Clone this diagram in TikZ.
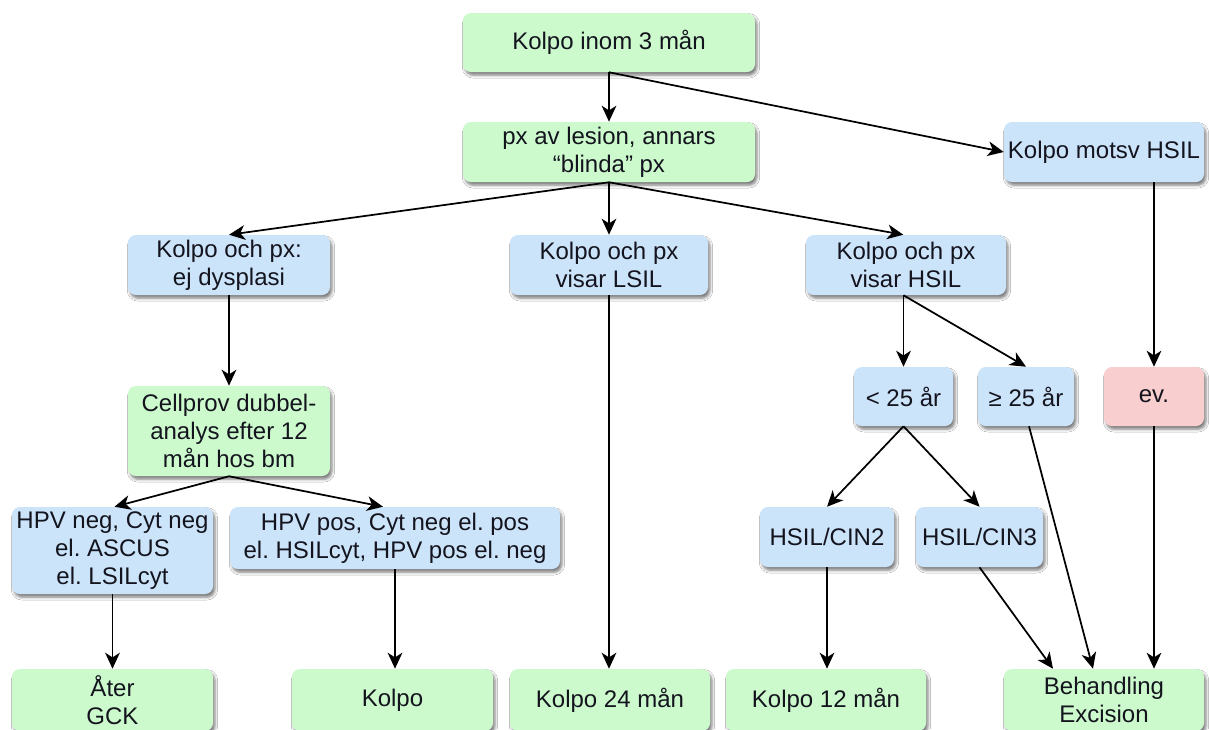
\documentclass[tikz,border=0pt]{standalone}
\usepackage{fontspec}
\setmainfont{Liberation Sans}
\usetikzlibrary{arrows.meta,shadows.blur}
\frenchspacing

\definecolor{boxgreen}{RGB}{204,250,204}
\definecolor{boxblue}{RGB}{204,228,250}
\definecolor{boxpink}{RGB}{248,206,206}
\definecolor{inkdark}{RGB}{20,20,30}

\begin{document}
\begin{tikzpicture}[x=0.75pt,y=-0.75pt,
  flowbox/.style={rounded corners=6pt, inner sep=0pt, align=center,
    font=\fontsize{18}{21}\selectfont, text=inkdark,
    blur shadow={shadow xshift=1.5pt, shadow yshift=-2.5pt,
      shadow blur radius=2pt, shadow opacity=50}},
  greenbox/.style={flowbox, fill=boxgreen},
  bluebox/.style={flowbox, fill=boxblue},
  pinkbox/.style={flowbox, fill=boxpink},
  link/.style={draw=black, line width=1.3pt,
    -{Stealth[length=12pt,width=11pt,inset=3.5pt]}},
]
\clip (0,0) rectangle (1209,729);
\fill[white] (0,0) rectangle (1209,729);

% top chain
\node[greenbox, minimum width=219pt, minimum height=44.25pt] (start) at (609,42.5) {Kolpo inom 3 mån};
\node[greenbox, minimum width=219pt, minimum height=45pt] (px) at (609,152) {px av lesion, annars\\“blinda” px};
\node[bluebox, minimum width=150pt, minimum height=45pt] (motsv) at (1104,152) {Kolpo motsv HSIL};

% biopsy results
\node[bluebox, minimum width=151.5pt, minimum height=45pt] (ejd) at (229,265) {Kolpo och px:\\ej dysplasi};
\node[bluebox, minimum width=148.5pt, minimum height=45pt] (lsil) at (609,265) {Kolpo och px\\visar LSIL};
\node[bluebox, minimum width=150pt, minimum height=45pt] (hsil) at (906,265) {Kolpo och px\\visar HSIL};

% follow-up and age split
\node[greenbox, minimum width=151.5pt, minimum height=67.5pt] (cell) at (229,431) {Cellprov dubbel-\\analys efter 12\\mån hos bm};
\node[bluebox, minimum width=74.25pt, minimum height=44.25pt] (lt) at (903.5,396.5) {< 25 år};
\node[bluebox, minimum width=72pt, minimum height=44.25pt] (ge) at (1026,396.5) {≥ 25 år};
\node[pinkbox, minimum width=75pt, minimum height=44.25pt] (ev) at (1154,396.5) {ev.};

% test results and grades
\node[bluebox, minimum width=150.75pt, minimum height=65.25pt] (neg) at (112.5,550.5) {HPV neg, Cyt neg\\el. ASCUS\\el. LSILcyt};
\node[bluebox, minimum width=247.5pt, minimum height=46.5pt] (pos) at (395,538) {HPV pos, Cyt neg el. pos\\el. HSILcyt, HPV pos el. neg};
\node[bluebox, minimum width=100.5pt, minimum height=45pt] (cin2) at (827,537) {HSIL/CIN2};
\node[bluebox, minimum width=95.25pt, minimum height=45pt] (cin3) at (979.5,537) {HSIL/CIN3};

% outcomes
\node[greenbox, minimum width=150.75pt, minimum height=46.5pt] (ater) at (112.5,700) {Åter\\GCK};
\node[greenbox, minimum width=150.75pt, minimum height=46.5pt] (kolpo) at (392.5,700) {Kolpo};
\node[greenbox, minimum width=150pt, minimum height=46.5pt] (k24) at (610,700) {Kolpo 24 mån};
\node[greenbox, minimum width=150pt, minimum height=46.5pt] (k12) at (826,700) {Kolpo 12 mån};
\node[greenbox, minimum width=150pt, minimum height=46.5pt] (beh) at (1104,700) {Behandling\\Excision};

% connectors
\draw[link] (start.south) -- (px.north);
\draw[link] (start.south) -- (motsv.west);
\draw[link] (px.south) -- (ejd.north);
\draw[link] (px.south) -- (lsil.north);
\draw[link] (px.south) -- ([xshift=-2pt]hsil.north);
\draw[link] (motsv.south -| ev.north) -- (ev.north);
\draw[link] (ejd.south) -- (cell.north);
\draw[link] (lsil.south) -- (lsil.south |- k24.north);
\draw[link] (lt.north |- hsil.south) -- (lt.north);
\draw[link] (lt.north |- hsil.south) -- (ge.north);
\draw[link] (cell.south) -- ([xshift=1.5pt]neg.north);
\draw[link] (cell.south) -- ([xshift=-9pt]pos.north);
\draw[link] (neg.south) -- (ater.north);
\draw[link] (pos.south) -- (pos.south |- kolpo.north);
\draw[link] (lt.south) -- (cin2.north);
\draw[link] (lt.south) -- (cin3.north);
\draw[link] (cin2.south) -- (cin2.south |- k12.north);
\draw[link] ([xshift=2.25pt]ge.south) -- ([xshift=-8.25pt]beh.north);
\draw[link] (cin3.south) -- ([xshift=-38.25pt]beh.north);
\draw[link] (ev.south) -- ([xshift=37.5pt]beh.north);
\end{tikzpicture}
\end{document}
